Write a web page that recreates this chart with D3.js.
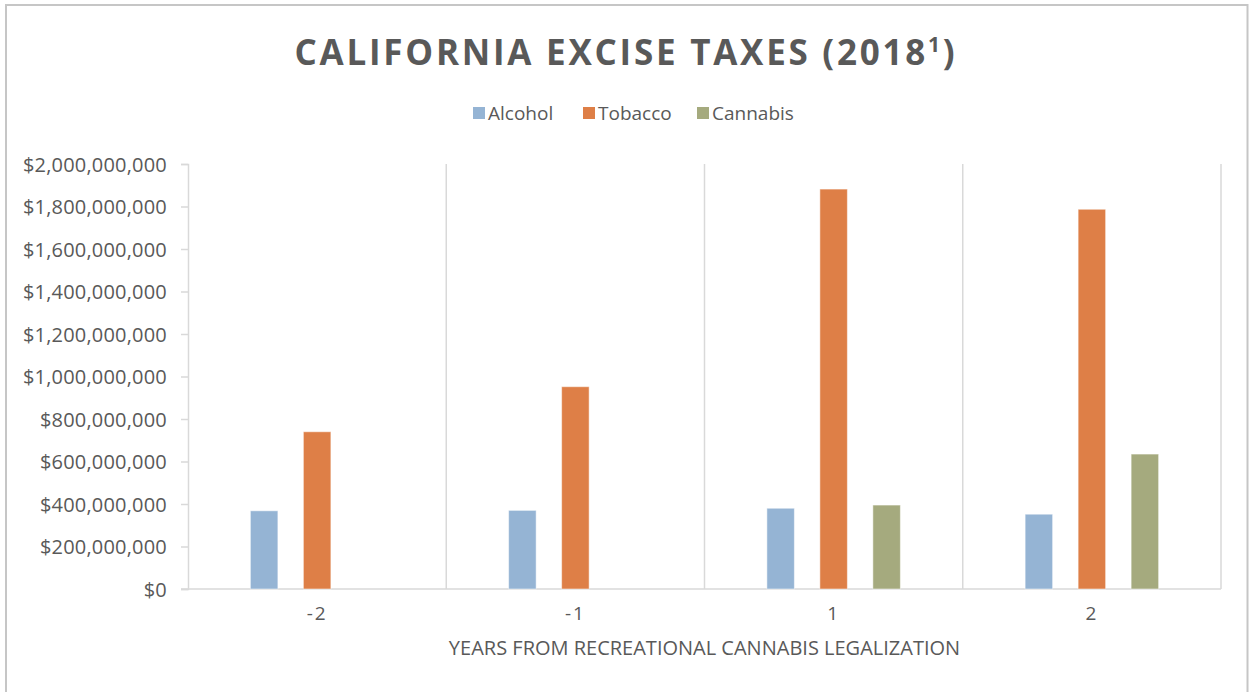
<!DOCTYPE html>
<html>
<head>
<meta charset="utf-8">
<script src="https://cdn.jsdelivr.net/npm/d3@7/dist/d3.min.js"></script>
<style>
  html, body { margin: 0; padding: 0; background: #fff; }
  svg { display: block; }
  text { font-family: "Open Sans", "DejaVu Sans", sans-serif; fill: #595959; }
</style>
</head>
<body>
<svg id="chart" width="1249" height="692"></svg>
<script>
// Years relative to recreational cannabis legalization
const categories = ["-2", "-1", "1", "2"];
const seriesNames = ["Alcohol", "Tobacco", "Cannabis"];
// Excise tax revenue in dollars (null = no revenue that year)
const alcohol  = [368000000, 370000000, 380000000, 352000000];
const tobacco  = [740000000, 952000000, 1882000000, 1787000000];
const cannabis = [null, null, 395000000, 635000000];
const yTicks = [0, 200000000, 400000000, 600000000, 800000000, 1000000000,
                1200000000, 1400000000, 1600000000, 1800000000, 2000000000];
const colors = ["#95b4d4", "#de7f47", "#a5aa7e"];

const svg = d3.select("#chart");
const plot = { left: 188, right: 1221, top: 164, bottom: 589 };

// Outer frame
svg.append("rect")
  .attr("x", 6).attr("y", 5)
  .attr("width", 1241.5).attr("height", 700)
  .attr("fill", "#fff").attr("stroke", "#c6c6c6").attr("stroke-width", 2);

// Title with superscript footnote marker
const title = svg.append("text")
  .attr("x", 626).attr("y", 65)
  .attr("text-anchor", "middle")
  .style("font-size", "35px").style("font-weight", 700)
  .style("letter-spacing", "2.75px");
title.append("tspan").text("CALIFORNIA EXCISE TAXES (2018");
title.append("tspan").text("1").attr("dy", -13).style("font-size", "21px");
title.append("tspan").text(")").attr("dy", 13);

const x0 = d3.scaleBand().domain(categories).range([plot.left, plot.right]).padding(0);
const y = d3.scaleLinear().domain([0, 2000000000]).range([plot.bottom, plot.top]);

const gridColor = "#d9d9d9";

// Category separators and right border of the plot area
svg.append("g").selectAll("line")
  .data(categories.slice(1).map(c => x0(c)).concat([plot.right]))
  .join("line")
  .attr("x1", d => d).attr("x2", d => d)
  .attr("y1", plot.top).attr("y2", plot.bottom)
  .attr("stroke", gridColor).attr("stroke-width", 1.5);

// Y axis
const yAxis = d3.axisLeft(y).tickValues(yTicks).tickSize(7).tickPadding(14)
  .tickFormat(d => "$" + d3.format(",")(d));
const gy = svg.append("g").attr("transform", `translate(${plot.left},0)`).call(yAxis);
gy.select(".domain").attr("stroke", gridColor).attr("stroke-width", 1.5);
gy.selectAll(".tick line").attr("stroke", gridColor).attr("stroke-width", 1.5);
gy.selectAll(".tick text").style("font-size", "20px").attr("fill", "#595959")
  .style("font-family", "'Open Sans', sans-serif").style("letter-spacing", "0.2px")
  .attr("dy", "0.35em");

// X axis
const xAxis = d3.axisBottom(x0).tickSize(0).tickPadding(18);
const gx = svg.append("g").attr("transform", `translate(0,${plot.bottom})`).call(xAxis);
gx.select(".domain").remove();
gx.append("line").attr("x1", plot.left - 7).attr("x2", plot.right)
  .attr("stroke", gridColor).attr("stroke-width", 1.5);
gx.selectAll(".tick text").style("font-size", "19px").attr("fill", "#595959")
  .style("font-family", "'Open Sans', sans-serif").style("letter-spacing", "2px");

// X axis title
svg.append("text")
  .attr("x", (plot.left + plot.right) / 2).attr("y", 655)
  .attr("text-anchor", "middle").style("font-size", "20px")
  .text("YEARS FROM RECREATIONAL CANNABIS LEGALIZATION");

// Bars
const seriesData = [alcohol, tobacco, cannabis];
const x1 = d3.scaleBand().domain(seriesNames).range([-66.75, 66.75]).paddingInner(0.481).paddingOuter(0);
const bw = x1.bandwidth();
seriesNames.forEach((name, si) => {
  svg.append("g").selectAll("rect")
    .data(categories.map((c, i) => ({ c, v: seriesData[si][i] })).filter(d => d.v != null))
    .join("rect")
    .attr("x", d => x0(d.c) + x0.bandwidth() / 2 + x1(name))
    .attr("y", d => y(d.v))
    .attr("width", bw)
    .attr("height", d => y(0) - y(d.v))
    .attr("fill", colors[si])
    .attr("stroke", "#fff").attr("stroke-opacity", 0.5).attr("stroke-width", 1);
});

// Legend
const legendItems = [
  { name: "Alcohol", x: 473 },
  { name: "Tobacco", x: 583 },
  { name: "Cannabis", x: 697 }
];
const lg = svg.append("g");
legendItems.forEach((d, i) => {
  lg.append("rect").attr("x", d.x).attr("y", 107).attr("width", 12).attr("height", 12)
    .attr("fill", colors[i]);
  lg.append("text").attr("x", d.x + 15).attr("y", 120).style("font-size", "19px").text(d.name);
});
</script>
</body>
</html>
